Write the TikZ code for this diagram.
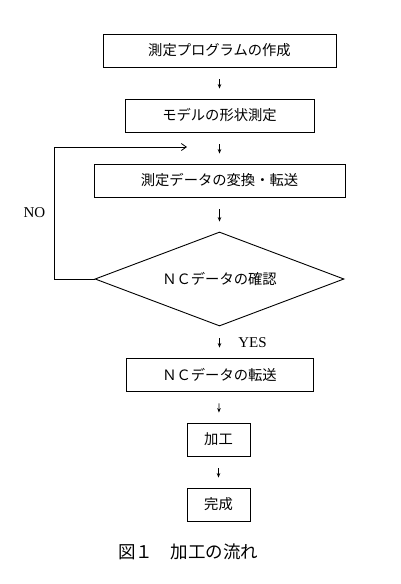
\documentclass[tikz,border=0pt]{standalone}
\usepackage{fontspec}
\setmainfont{Liberation Serif}
\newfontfamily\jp{Noto Sans CJK JP}
\usetikzlibrary{shapes.geometric,arrows.meta}
\begin{document}
\begin{tikzpicture}[x=1pt,y=-1pt,
 box/.style={draw,line width=0.9pt,inner sep=0pt,font=\jp\fontsize{14.3pt}{16pt}\selectfont},
 arr/.style={line width=0.8pt,-{Stealth[length=4.5pt,width=3.6pt]},shorten <=12pt,shorten >=10pt},
 backloop/.style={line width=0.8pt,-{Straight Barb[length=5pt,width=7pt]}},
 lab/.style={font=\fontsize{15pt}{17pt}\selectfont}]
\useasboundingbox[fill=white] (0,0) rectangle (400,584);
\node[box,minimum width=233pt,minimum height=33pt] (b1) at (219.5,50.5) {測定プログラムの作成};
\node[box,minimum width=189pt,minimum height=33pt] (b2) at (219.5,115.5) {モデルの形状測定};
\node[box,minimum width=251pt,minimum height=33pt] (b3) at (219.5,180.5) {測定データの変換・転送};
\node[draw,line width=0.9pt,diamond,aspect=2.65,minimum width=249pt,minimum height=94pt,inner sep=0pt,font=\jp\fontsize{14.3pt}{16pt}\selectfont] (d) at (219.5,279) {ＮＣデータの確認};
\node[box,minimum width=187pt,minimum height=33pt] (b4) at (219.5,374.5) {ＮＣデータの転送};
\node[box,minimum width=63pt,minimum height=33pt] (b5) at (218.5,439.5) {加工};
\node[box,minimum width=63pt,minimum height=33pt] (b6) at (218.5,504.5) {完成};
\draw[arr] (b1) -- (b2);
\draw[arr] (b2) -- (b3);
\draw[arr] (b3) -- (d);
\draw[arr] (d) -- (b4);
\draw[arr] (b4) -- (b5);
\draw[arr] (b5) -- (b6);
\coordinate (lt) at (187,147);
\draw[backloop] (d.west) -- ++(-40,0) |- (lt);
\node[lab] (yes) at (252.5,343) {YES};
\node[lab] (no) at (34.5,213) {NO};
\node[font=\jp\fontsize{17.5pt}{19pt}\selectfont] (cap) at (188,552) {図１　加工の流れ};
\end{tikzpicture}
\end{document}
